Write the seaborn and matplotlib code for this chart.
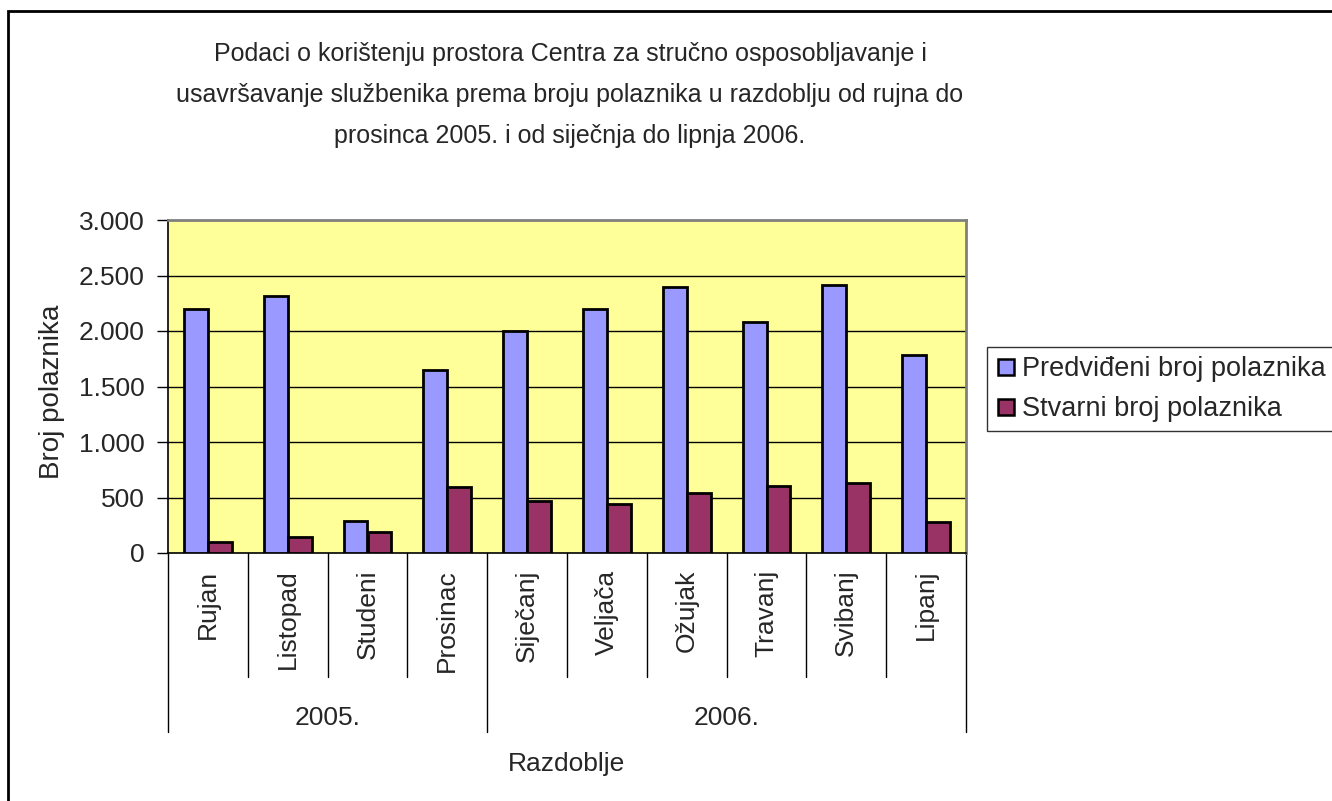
import pandas as pd
import seaborn as sns
import matplotlib.pyplot as plt
from matplotlib.lines import Line2D
from matplotlib.patches import Rectangle
from matplotlib.ticker import FuncFormatter
import matplotlib.transforms as mtransforms

# Data
months = ['Rujan', 'Listopad', 'Studeni', 'Prosinac', 'Siječanj',
          'Veljača', 'Ožujak', 'Travanj', 'Svibanj', 'Lipanj']
years = ['2005.', '2006.']
months_per_year = [4, 6]
predicted = [2200, 2315, 290, 1645, 2000, 2200, 2400, 2080, 2415, 1785]
actual = [95, 140, 185, 595, 465, 445, 540, 600, 630, 280]
series = ['Predviđeni broj polaznika', 'Stvarni broj polaznika']
colors = ['#9999FF', '#993366']

df = pd.DataFrame({
    'mjesec': months * 2,
    'broj': predicted + actual,
    'serija': [series[0]] * len(months) + [series[1]] * len(months),
})

sns.set_style('white')
plt.rcParams['font.family'] = ['Liberation Sans', 'DejaVu Sans']
FS = 19

fig = plt.figure(figsize=(13.32, 8.01), dpi=100)
ax = fig.add_axes([168 / 1332, 1 - 553 / 801, (966 - 168) / 1332, (553 - 220) / 801])
ax.set_facecolor('#FFFF99')

sns.barplot(data=df, x='mjesec', y='broj', hue='serija', palette=colors,
            width=0.6, saturation=1, edgecolor='black', linewidth=2,
            legend=False, ax=ax, zorder=3)

ax.set_ylim(0, 3000)
ax.set_xlim(-0.5, len(months) - 0.5)
ax.set_yticks(range(0, 3001, 500))
ax.yaxis.set_major_formatter(FuncFormatter(lambda v, p: f"{int(v):,}".replace(',', '.')))
for v in range(500, 3000, 500):
    ax.axhline(v, color='black', lw=1, zorder=1)

ax.tick_params(axis='y', direction='out', length=8, width=1, color='black',
               pad=9, labelsize=FS, left=True)
ax.tick_params(axis='x', length=0, pad=12, labelsize=FS)
ax.set_xticks(range(len(months)))
ax.set_xticklabels(months, rotation=90, va='top', ha='center')
ax.set_xlabel('')
ax.set_ylabel('')

for side in ['left', 'bottom']:
    ax.spines[side].set_color('black')
    ax.spines[side].set_linewidth(1.2)
for side in ['top', 'right']:
    ax.spines[side].set_color('#808080')
    ax.spines[side].set_linewidth(2)

# hierarchical category axis: month and year separators
trans = mtransforms.blended_transform_factory(ax.transData, ax.transAxes)
year_edges = [-0.5]
for n in months_per_year:
    year_edges.append(year_edges[-1] + n)
for i in range(len(months) + 1):
    x = i - 0.5
    y_end = -0.538 if x in year_edges else -0.372
    ax.plot([x, x], [0, y_end], transform=trans, color='black', lw=1, clip_on=False)
for yr, a, b in zip(years, year_edges[:-1], year_edges[1:]):
    ax.text((a + b) / 2, -0.495, yr, transform=trans, ha='center', va='center', fontsize=FS)

ax.text(0.5, -0.635, 'Razdoblje', transform=ax.transAxes, ha='center', va='center', fontsize=FS)
fig.text(52 / 1332, 1 - 392 / 801, 'Broj polaznika', rotation=90,
         ha='center', va='center', fontsize=20)

fig.text(570 / 1332, 1 - 95 / 801,
         'Podaci o korištenju prostora Centra za stručno osposobljavanje i\n'
         'usavršavanje službenika prema broju polaznika u razdoblju od rujna do\n'
         'prosinca 2005. i od siječnja do lipnja 2006.',
         ha='center', va='center', multialignment='center', fontsize=18, linespacing=1.9)

handles = [Line2D([], [], marker='s', markersize=12, markerfacecolor=c, markeredgecolor='black',
                  markeredgewidth=1.8, linestyle='none', label=s) for c, s in zip(colors, series)]
leg = fig.legend(handles=handles, loc='upper left', bbox_to_anchor=(987 / 1332, 1 - 347 / 801),
                 fontsize=19.5, frameon=True, fancybox=False, handlelength=0.7,
                 handletextpad=0.24, borderpad=0.35, labelspacing=0.5, borderaxespad=0)
leg.get_frame().set_edgecolor('black')
leg.get_frame().set_linewidth(1)

# outer chart frame
fig.patches.append(Rectangle((8 / 1332, -0.1), 1.2, 1.1 - 11 / 801, transform=fig.transFigure,
                             fill=False, edgecolor='black', lw=2))

plt.savefig('out.png', dpi=100)
